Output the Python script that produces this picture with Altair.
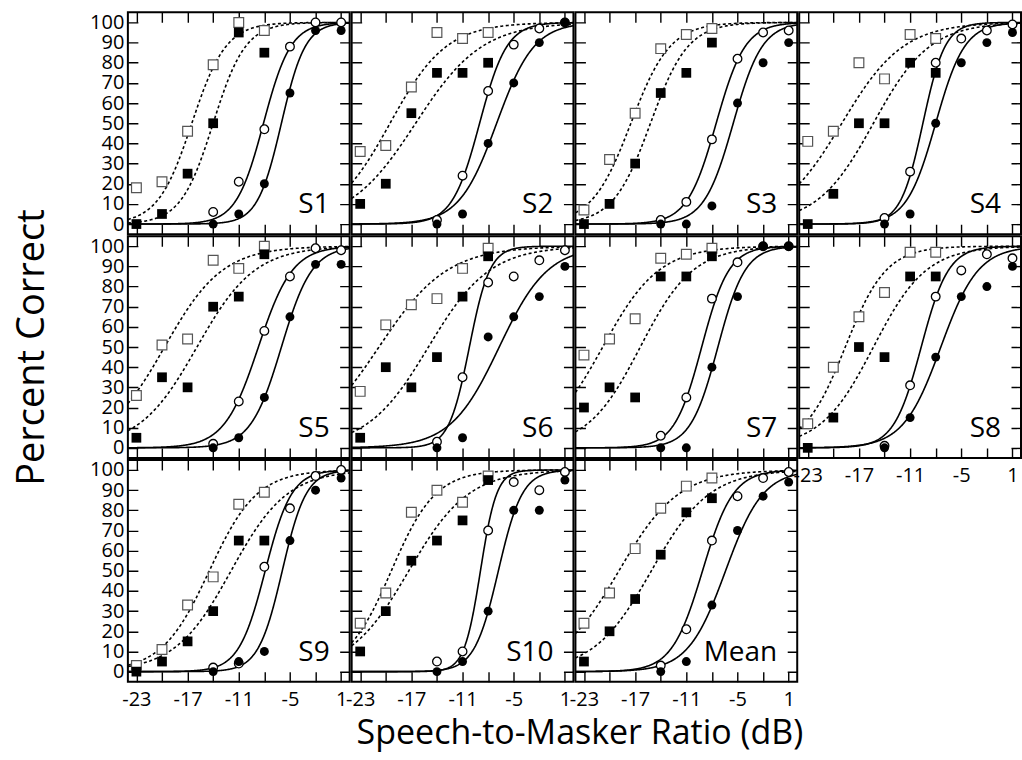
import altair as alt
import pandas as pd

FONT = "Open Sans"

panels = ["S1", "S2", "S3", "S4", "S5", "S6", "S7", "S8", "S9", "S10", "Mean"]
snr_low = [-23, -20, -17, -14, -11, -8]
snr_high = [-14, -11, -8, -5, -2, 1]
x_ticks = [-23, -20, -17, -14, -11, -8, -5, -2, 1]
x_labels = [-23, -17, -11, -5, 1]
y_ticks = [0, 10, 20, 30, 40, 50, 60, 70, 80, 90, 100]

open_square = [
    [18, 21, 46, 79, 100, 96],
    [36, 39, 68, 95, 92, 95],
    [7, 32, 55, 87, 94, 97],
    [41, 46, 80, 72, 94, 92],
    [26, 51, 54, 93, 89, 100],
    [28, 61, 71, 74, 89, 99],
    [46, 54, 64, 94, 96, 99],
    [12, 40, 65, 77, 97, 97],
    [3, 11, 33, 47, 83, 89],
    [24, 39, 79, 90, 84, 97],
    [24, 39, 61, 81, 92, 96],
]
filled_square = [
    [0, 5, 25, 50, 95, 85],
    [10, 20, 55, 75, 75, 80],
    [0, 10, 30, 65, 75, 90],
    [0, 15, 50, 50, 80, 75],
    [5, 35, 30, 70, 75, 96],
    [5, 40, 30, 45, 75, 95],
    [20, 30, 25, 85, 85, 95],
    [0, 15, 50, 45, 85, 85],
    [0, 5, 15, 30, 65, 65],
    [10, 30, 55, 65, 75, 95],
    [5, 20, 36, 58, 79, 86],
]
open_circle = [
    [6, 21, 47, 88, 100, 100],
    [2, 24, 66, 89, 97, 100],
    [2, 11, 42, 82, 95, 96],
    [3, 26, 80, 92, 96, 99],
    [2, 23, 58, 85, 99, 98],
    [3, 35, 82, 85, 93, 98],
    [6, 25, 74, 92, 100, 100],
    [1, 31, 75, 88, 96, 94],
    [2, 4, 52, 81, 97, 100],
    [5, 10, 70, 94, 90, 99],
    [3, 21, 65, 87, 96, 99],
]
filled_circle = [
    [0, 5, 20, 65, 96, 96],
    [0, 5, 40, 70, 90, 100],
    [0, 0, 9, 60, 80, 90],
    [0, 5, 50, 80, 90, 95],
    [0, 5, 25, 65, 91, 91],
    [0, 5, 55, 65, 75, 90],
    [0, 0, 40, 75, 100, 100],
    [0, 15, 45, 75, 80, 90],
    [0, 5, 10, 65, 90, 96],
    [0, 5, 30, 80, 80, 95],
    [0, 5, 33, 70, 87, 94],
]

# fitted psychometric functions: (midpoint dB, spread dB)
fit_open_square = [(-16.5, 2.0), (-19.5, 3.3), (-17.5, 2.3), (-19.0, 3.6), (-19.7, 3.4), (-20.8, 4.0),
                   (-20.8, 3.3), (-18.6, 2.4), (-14.45, 2.8), (-19.35, 2.6), (-18.9, 3.5)]
fit_filled_square = [(-14.0, 1.9), (-16.5, 3.9), (-15.2, 2.2), (-15.3, 3.3), (-15.9, 3.4), (-15.0, 3.6),
                     (-16.4, 3.1), (-15.3, 3.1), (-11.9, 3.3), (-17.3, 3.5), (-15.1, 3.4)]
fit_open_circle = [(-8.1, 1.6), (-9.0, 1.6), (-7.5, 1.7), (-9.5, 1.3), (-8.7, 2.0), (-10.2, 1.2),
                   (-9.2, 1.6), (-9.7, 1.6), (-7.9, 1.55), (-8.9, 0.95), (-9.1, 1.8)]
fit_filled_circle = [(-6.0, 1.4), (-7.0, 2.2), (-5.5, 1.7), (-8.0, 1.7), (-6.0, 1.8), (-6.7, 2.85),
                     (-7.3, 1.6), (-7.4, 2.2), (-5.9, 1.4), (-6.8, 1.4), (-6.4, 2.2)]

W = 222
H = 222
xscale = alt.Scale(domain=[-24, 2], nice=False, zero=False)
yscale = alt.Scale(domain=[-5, 105], nice=False, zero=False)
x_label_expr = "indexof([" + ",".join(str(v) for v in x_labels) + "], datum.value) >= 0 ? toString(datum.value) : ''"


def make_axes(idx):
    row, col = divmod(idx, 4)
    bottom = row == 2 or idx == 7
    left = col == 0
    xkw = dict(values=x_ticks, grid=True, gridDash=[10, 202], gridColor="black", gridWidth=1.4,
               gridOpacity=1, ticks=False, tickSize=0, domain=False, labels=bottom,
               labelFont=FONT, labelFontSize=20, labelColor="black", labelPadding=8,
               labelOverlap=False, labelFlush=False, labelExpr=x_label_expr)
    ykw = dict(values=y_ticks, grid=True, gridDash=[10, 202], gridColor="black", gridWidth=1.4,
               gridOpacity=1, ticks=False, tickSize=0, domain=False, labels=left,
               labelFont=FONT, labelFontSize=20, labelColor="black", labelPadding=4,
               labelOverlap=False, labelFlush=False)
    if idx == 9:
        xkw.update(title="Speech-to-Masker Ratio (dB)", titleX=228, titleY=62, titleAlign="center",
                   titleBaseline="alphabetic", titleFont=FONT, titleFontSize=34,
                   titleFontWeight="normal", titleColor="black")
    else:
        xkw.update(title="")
    if idx == 4:
        ykw.update(title="Percent Correct", titleX=-84, titleY=111, titleAngle=270,
                   titleAlign="center", titleBaseline="alphabetic", titleFont=FONT,
                   titleFontSize=38, titleFontWeight="normal", titleColor="black")
    else:
        ykw.update(title="")
    return alt.Axis(**xkw), alt.Axis(**ykw)


def panel(idx):
    xa, ya = make_axes(idx)
    rows = []
    for cond, xs, vals in [("os", snr_low, open_square[idx]), ("fs", snr_low, filled_square[idx]),
                           ("oc", snr_high, open_circle[idx]), ("fc", snr_high, filled_circle[idx])]:
        for xv, yv in zip(xs, vals):
            rows.append({"x": xv, "y": yv, "cond": cond})
    pts = pd.DataFrame(rows)
    fits = pd.DataFrame({
        "cond": ["os", "fs", "oc", "fc"],
        "m": [fit_open_square[idx][0], fit_filled_square[idx][0], fit_open_circle[idx][0], fit_filled_circle[idx][0]],
        "s": [fit_open_square[idx][1], fit_filled_square[idx][1], fit_open_circle[idx][1], fit_filled_circle[idx][1]],
        "dash": ["dashed", "dashed", "solid", "solid"],
    })
    curves = alt.Chart(fits).transform_calculate(
        xs="sequence(-24, 2.05, 0.1)"
    ).transform_flatten(["xs"]).transform_calculate(
        yv="100/(1+exp(-(datum.xs-datum.m)/datum.s))"
    ).mark_line(color="black", strokeWidth=1.6, clip=True).encode(
        x=alt.X("xs:Q", scale=xscale, axis=xa),
        y=alt.Y("yv:Q", scale=yscale, axis=ya),
        detail="cond:N",
        strokeDash=alt.StrokeDash("dash:N", scale=alt.Scale(domain=["dashed", "solid"],
                                                          range=[[3, 2.5], [1, 0]]), legend=None),
    )

    def pts_layer(cond, **mk):
        return alt.Chart(pts).transform_filter(alt.datum.cond == cond).mark_point(opacity=1, **mk).encode(
            x=alt.X("x:Q", scale=xscale, axis=xa),
            y=alt.Y("y:Q", scale=yscale, axis=ya),
        )

    os_l = pts_layer("os", shape="square", fill="white", stroke="#555555", strokeWidth=1.2, size=95)
    fs_l = pts_layer("fs", shape="square", filled=True, color="black", size=95)
    oc_l = pts_layer("oc", shape="circle", fill="white", stroke="black", strokeWidth=1.3, size=75)
    fc_l = pts_layer("fc", shape="circle", filled=True, color="black", size=80)
    label = alt.Chart(pd.DataFrame({"t": [panels[idx]]})).mark_text(
        align="right", baseline="alphabetic", fontSize=28, font=FONT, color="black"
    ).encode(x=alt.value(202), y=alt.value(201), text="t:N")
    return alt.layer(curves, os_l, fs_l, oc_l, fc_l, label).properties(width=W, height=H)


chart = alt.concat(*[panel(i) for i in range(len(panels))], columns=4, spacing=2, bounds="flush").properties(
    padding={"left": 12, "top": 11, "right": 0, "bottom": 0},
    background="white",
).configure_view(stroke="black", strokeWidth=2)

chart.save("out.html", embed_options={"renderer": "svg", "actions": False})
